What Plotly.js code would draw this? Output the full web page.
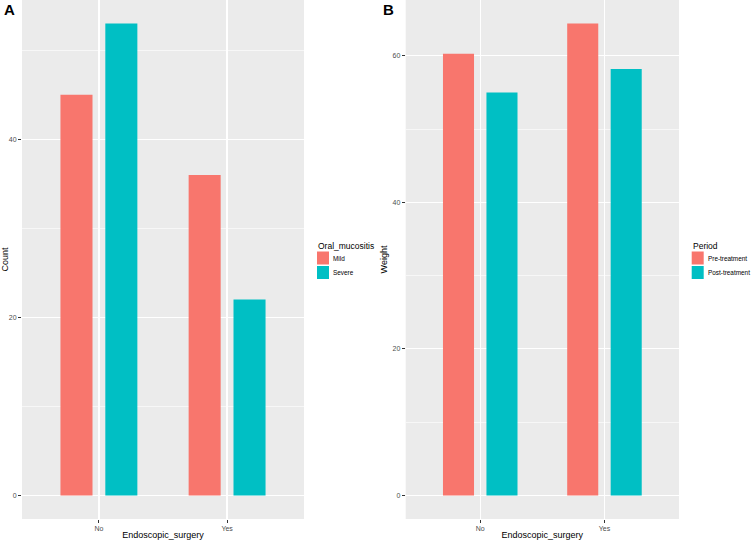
<!DOCTYPE html>
<html>
<head>
<meta charset="utf-8">
<script src="https://cdn.plot.ly/plotly-3.0.1.min.js"></script>
<style>html,body{margin:0;padding:0;background:#fff;}#chart{width:753px;height:540px;}</style>
</head>
<body>
<div id="chart"></div>
<script>
// ---- data ----
const categories = ["No", "Yes"];
const panelA_series = ["Mild", "Severe"];
const panelA_mild = [45, 36];
const panelA_severe = [53, 22];
const panelA_legendTitle = "Oral_mucositis";
const panelA_yTitle = "Count";
const panelB_series = ["Pre-treatment", "Post-treatment"];
const panelB_pre = [60.3, 64.4];
const panelB_post = [55.0, 58.2];
const panelB_legendTitle = "Period";
const panelB_yTitle = "Weight";
const xTitle = "Endoscopic_surgery";
const colors = ["#F8766D", "#00BFC4"];

// ---- layout helpers ----
const W = 753, H = 540;
const px = v => v / W;
const py = v => 1 - v / H;
const FONT = "Liberation Sans, Arial, sans-serif";

function barTrace(x, y, color, name, offset, xa, ya) {
  return {type: "bar", x: x, y: y, name: name, width: 0.25, offset: offset,
          marker: {color: color, line: {width: 0}}, xaxis: xa, yaxis: ya,
          showlegend: false, hoverinfo: "x+y+name"};
}

const traces = [
  barTrace(categories, panelA_mild, colors[0], panelA_series[0], -0.3, "x", "y"),
  barTrace(categories, panelA_severe, colors[1], panelA_series[1], 0.05, "x", "y"),
  barTrace(categories, panelB_pre, colors[0], panelB_series[0], -0.3, "x2", "y2"),
  barTrace(categories, panelB_post, colors[1], panelB_series[1], 0.05, "x2", "y2")
];

function maxOf(a, b) { return Math.max(...a, ...b); }
const maxA = maxOf(panelA_mild, panelA_severe);
const maxB = maxOf(panelB_pre, panelB_post);

const xBase = {
  type: "category", range: [-0.6, 1.6], showgrid: true, gridcolor: "#FFFFFF", gridwidth: 1.2,
  zeroline: false, showline: false, ticks: "outside", ticklen: 3, tickwidth: 1, tickcolor: "#333333",
  tickfont: {family: FONT, size: 7, color: "#4D4D4D"}, fixedrange: true
};
const yBase = {
  showgrid: true, gridcolor: "#FFFFFF", gridwidth: 1.2, zeroline: false, showline: false,
  ticks: "outside", ticklen: 3, tickwidth: 1, tickcolor: "#333333", dtick: 20, tick0: 0,
  tickfont: {family: FONT, size: 7, color: "#4D4D4D"},
  minor: {tick0: 10, dtick: 20, showgrid: true, gridcolor: "#FFFFFF", gridwidth: 0.6, ticks: ""},
  domain: [py(519), 1], fixedrange: true
};

const layout = {
  width: W, height: H,
  margin: {l: 0, r: 0, t: 0, b: 0},
  paper_bgcolor: "#FFFFFF", plot_bgcolor: "#EBEBEB",
  barmode: "overlay", showlegend: false,
  font: {family: FONT, color: "#000000"},
  xaxis: Object.assign({}, xBase, {domain: [px(22), px(304)], anchor: "y",
    title: {text: xTitle, font: {family: FONT, size: 9, color: "#000"}, standoff: 2}}),
  yaxis: Object.assign({}, yBase, {anchor: "x", range: [-0.05 * maxA, 1.05 * maxA],
    title: {text: panelA_yTitle, font: {family: FONT, size: 9, color: "#000"}, standoff: 3}}),
  xaxis2: Object.assign({}, xBase, {domain: [px(405.7), px(679)], anchor: "y2",
    title: {text: xTitle, font: {family: FONT, size: 9, color: "#000"}, standoff: 2}}),
  yaxis2: Object.assign({}, yBase, {anchor: "x2", range: [-0.05 * maxB, 1.05 * maxB],
    title: {text: panelB_yTitle, font: {family: FONT, size: 9, color: "#000"}, standoff: 3}}),
  shapes: [],
  annotations: [
    {text: "<b>A</b>", xref: "paper", yref: "paper", x: px(9.5), y: py(10), xanchor: "center", yanchor: "middle",
     showarrow: false, font: {family: FONT, size: 15, color: "#000"}},
    {text: "<b>B</b>", xref: "paper", yref: "paper", x: px(388), y: py(10), xanchor: "center", yanchor: "middle",
     showarrow: false, font: {family: FONT, size: 15, color: "#000"}}
  ]
};

function addLegend(x0, title, names) {
  layout.annotations.push({text: title, xref: "paper", yref: "paper", x: px(x0 - 1), y: py(245.5),
    xanchor: "left", yanchor: "middle", showarrow: false, font: {family: FONT, size: 8.5, color: "#000"}});
  const keyTops = [251.5, 266];
  names.forEach((n, i) => {
    layout.shapes.push({type: "rect", xref: "paper", yref: "paper",
      x0: px(x0), x1: px(x0 + 12), y0: py(keyTops[i]), y1: py(keyTops[i] + 13),
      fillcolor: colors[i], line: {width: 0}});
    layout.annotations.push({text: n, xref: "paper", yref: "paper", x: px(x0 + 15), y: py(keyTops[i] + 6.5),
      xanchor: "left", yanchor: "middle", showarrow: false, borderpad: 0,
      font: {family: FONT, size: 6.4, color: "#000"}});
  });
}
addLegend(317, panelA_legendTitle, panelA_series);
addLegend(691.7, panelB_legendTitle, panelB_series);

Plotly.newPlot("chart", traces, layout, {staticPlot: true, displayModeBar: false});
</script>
</body>
</html>
